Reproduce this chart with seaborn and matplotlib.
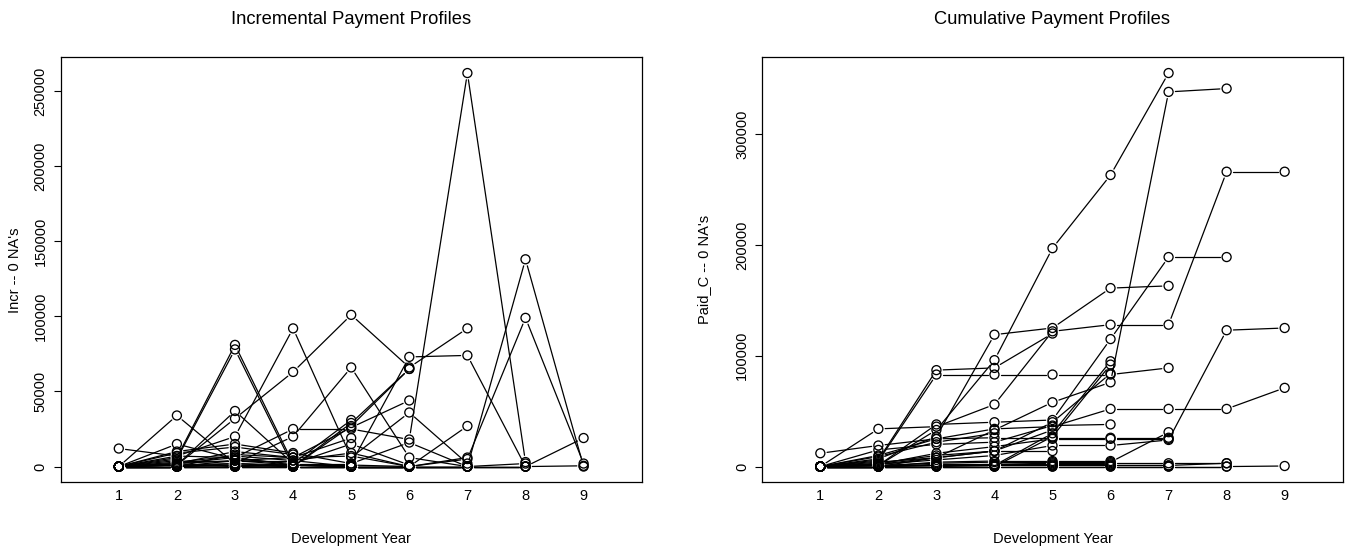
import matplotlib
matplotlib.use("Agg")
import matplotlib.pyplot as plt
import numpy as np
import pandas as pd
import seaborn as sns

# ---------------- data ----------------
dev_years = [1, 2, 3, 4, 5, 6, 7, 8, 9]
x_tick_labels = ["1", "2", "3", "4", "5", "6", "7", "8", "9"]

incr_yticks = [0, 50000, 100000, 150000, 200000, 250000]
cum_yticks = [0, 100000, 200000, 300000]

claim_ids = ["A", "X", "B", "C", "D", "E", "F", "G1", "G2", "H1", "H2", "I", "J",
             "K", "L", "Q", "R", "S", "T1", "T2", "T3", "T4", "T5", "N1", "N2", "N3"]

# cumulative paid per development year (Paid_C)
paid_A = [0, 1000, 33000, 96000, 197000, 263000, 355000]
paid_X = [0, 2000, 8000, 33000, 58000, 76000, 338000, 341000]
paid_B = [0, 34000, 36000, 56000, 122000, 128000, 128000, 266000, 266000]
paid_C = [0, 1000, 38000, 40000, 42000, 115000, 189000, 189000]
paid_D = [0, 7000, 27000, 119000, 125000, 161000, 163000]
paid_E = [0, 2000, 6000, 10000, 19000, 19000, 24000, 123000, 125000]
paid_F = [0, 10000, 25000, 34000, 36000, 52000, 52000, 52000, 71000]
paid_G1 = [0, 6000, 87000, 89000, 120000]
paid_G2 = [0, 5000, 83000, 83000, 83000, 83000, 89000]
paid_H1 = [0, 0, 1000, 1000, 30000, 95000]
paid_H2 = [0, 0, 0, 0, 27000, 92000]
paid_I = [12000, 19000, 25000, 26000, 26000, 26000, 26000]
paid_J = [0, 15000, 20000, 22000, 37000, 38000]
paid_K = [0, 4000, 8000, 14000, 33000]
paid_L = [0, 9000, 22000, 30000]
paid_Q = [0, 1000, 3000, 4000, 4000, 4000, 31000]
paid_R = [0, 2000, 12000, 18000, 25000, 25000, 25000]
paid_S = [0, 0, 8000, 14000, 40000, 84000]
paid_T1 = [0, 0, 4000, 5000, 5000, 5000]
paid_T2 = [0, 1000, 1000, 2000, 3000, 3000, 3000, 3000]
paid_T3 = [0, 0, 0, 1000, 1000, 1000, 1000]
paid_T4 = [0, 0, 2000, 2000, 2000, 2000]
paid_T5 = [0, 3000, 10000, 14000, 14000]
paid_N1 = [0, 0, 0, 0, 0, 0, 0, 0, 500]
paid_N2 = [0, 0, 1000, 1000, 1000, 1000, 1000, 3000]
paid_N3 = [0, 0, 0, 0, 0, 0, 0, 0]

# incremental payment per development year (Incr)
incr_A = [0, 1000, 32000, 63000, 101000, 66000, 92000]
incr_X = [0, 2000, 6000, 25000, 25000, 18000, 262000, 3000]
incr_B = [0, 34000, 2000, 20000, 66000, 6000, 0, 138000, 0]
incr_C = [0, 1000, 37000, 2000, 2000, 73000, 74000, 0]
incr_D = [0, 7000, 20000, 92000, 6000, 36000, 2000]
incr_E = [0, 2000, 4000, 4000, 9000, 0, 5000, 99000, 2000]
incr_F = [0, 10000, 15000, 9000, 2000, 16000, 0, 0, 19000]
incr_G1 = [0, 6000, 81000, 2000, 31000]
incr_G2 = [0, 5000, 78000, 0, 0, 0, 6000]
incr_H1 = [0, 0, 1000, 0, 29000, 65000]
incr_H2 = [0, 0, 0, 0, 27000, 65000]
incr_I = [12000, 7000, 6000, 1000, 0, 0, 0]
incr_J = [0, 15000, 5000, 2000, 15000, 1000]
incr_K = [0, 4000, 4000, 6000, 19000]
incr_L = [0, 9000, 13000, 8000]
incr_Q = [0, 1000, 2000, 1000, 0, 0, 27000]
incr_R = [0, 2000, 10000, 6000, 7000, 0, 0]
incr_S = [0, 0, 8000, 6000, 26000, 44000]
incr_T1 = [0, 0, 4000, 1000, 0, 0]
incr_T2 = [0, 1000, 0, 1000, 1000, 0, 0, 0]
incr_T3 = [0, 0, 0, 1000, 0, 0, 0]
incr_T4 = [0, 0, 2000, 0, 0, 0]
incr_T5 = [0, 3000, 7000, 4000, 0]
incr_N1 = [0, 0, 0, 0, 0, 0, 0, 0, 500]
incr_N2 = [0, 0, 1000, 0, 0, 0, 0, 2000]
incr_N3 = [0, 0, 0, 0, 0, 0, 0, 0]

paid_all = [paid_A, paid_X, paid_B, paid_C, paid_D, paid_E, paid_F, paid_G1, paid_G2,
            paid_H1, paid_H2, paid_I, paid_J, paid_K, paid_L, paid_Q, paid_R, paid_S,
            paid_T1, paid_T2, paid_T3, paid_T4, paid_T5, paid_N1, paid_N2, paid_N3]
incr_all = [incr_A, incr_X, incr_B, incr_C, incr_D, incr_E, incr_F, incr_G1, incr_G2,
            incr_H1, incr_H2, incr_I, incr_J, incr_K, incr_L, incr_Q, incr_R, incr_S,
            incr_T1, incr_T2, incr_T3, incr_T4, incr_T5, incr_N1, incr_N2, incr_N3]

rows = []
for cid, pc, ic in zip(claim_ids, paid_all, incr_all):
    for d, p, i in zip(dev_years, pc, ic):
        rows.append({"claim": cid, "dev": d, "Paid_C": p, "Incr": i})
df = pd.DataFrame(rows)

# ---------------- style ----------------
sns.set_theme(style="white")
plt.rcParams["font.family"] = ["Liberation Sans", "DejaVu Sans"]
FS = 10.5

W, H = 1347, 551
fig = plt.figure(figsize=(W / 100, H / 100), dpi=100)

def frac_axes(left_px, right_px, top_px, bottom_px):
    return [left_px / W, 1 - bottom_px / H, (right_px - left_px) / W, (bottom_px - top_px) / H]

ax1 = fig.add_axes(frac_axes(60.7, 641.7, 57.3, 482.3))
ax2 = fig.add_axes(frac_axes(762.3, 1342.7, 57.3, 482.3))

GAP_PX = 6.8


def panel(ax, col, yticks, title, ylabel, ylab_px, left_px):
    vals = df[col].to_numpy(dtype=float)
    lo, hi = vals.min(), vals.max()
    rng = hi - lo
    ax.set_xlim(0, 10)
    ax.set_ylim(lo - 0.04 * rng, hi + 0.04 * rng)

    # segments between consecutive points, with gaps around points (R type="b")
    trans = ax.transData
    inv = trans.inverted()
    seg_rows = []
    sid = 0
    for cid, g in df.groupby("claim", sort=False):
        pts = trans.transform(np.column_stack([g["dev"].to_numpy(float), g[col].to_numpy(float)]))
        for k in range(len(pts) - 1):
            p0, p1 = pts[k], pts[k + 1]
            v = p1 - p0
            L = np.hypot(*v)
            if L <= 2 * GAP_PX:
                continue
            u = v / L
            a = inv.transform(p0 + u * GAP_PX)
            b = inv.transform(p1 - u * GAP_PX)
            seg_rows.append({"seg": sid, "x": a[0], "y": a[1], "o": 0})
            seg_rows.append({"seg": sid, "x": b[0], "y": b[1], "o": 1})
            sid += 1
    seg = pd.DataFrame(seg_rows)
    sns.lineplot(data=seg, x="x", y="y", units="seg", estimator=None, sort=False,
                 color="black", lw=0.9, ax=ax, legend=False)

    sns.scatterplot(data=df, x="dev", y=col, marker="o", s=42, color="black",
                    linewidth=0.95, ax=ax, legend=False, zorder=4)
    coll = ax.collections[-1]
    coll.set_facecolor("none")
    coll.set_edgecolor("black")
    coll.set_linewidth(0.95)

    ax.set_xlim(0, 10)
    ax.set_ylim(lo - 0.04 * rng, hi + 0.04 * rng)
    ax.set_xticks(dev_years)
    ax.set_xticklabels(x_tick_labels, fontsize=FS)
    ax.set_yticks(yticks)
    ax.set_yticklabels([str(t) for t in yticks], fontsize=FS, rotation=90, va="center")
    ax.tick_params(axis="y", which="both", left=True, length=5.2, width=0.8,
                   pad=4.3, color="black", labelcolor="black")
    ax.tick_params(axis="x", which="both", bottom=False, length=0, pad=4.5,
                   labelcolor="black")
    for sp in ax.spines.values():
        sp.set_visible(True)
        sp.set_color("black")
        sp.set_linewidth(0.9)
    ax.grid(False)

    ax.set_title(title, fontsize=13.2, y=(482.3 - 20) / 425, va="center", pad=0, color="black")
    ax.set_xlabel("Development Year", fontsize=FS, color="black")
    ax.xaxis.set_label_coords(0.5, (482.3 - 539) / 425)
    ax.xaxis.label.set_va("center")
    ax.set_ylabel(ylabel, fontsize=FS, color="black")
    ax.yaxis.set_label_coords((ylab_px - left_px) / (581.0), 0.5)
    ax.yaxis.label.set_va("center")


panel(ax1, "Incr", incr_yticks, "Incremental Payment Profiles", "Incr -- 0 NA's", 15, 60.7)
panel(ax2, "Paid_C", cum_yticks, "Cumulative Payment Profiles", "Paid_C -- 0 NA's", 704, 762.3)

fig.savefig("out.png", dpi=100, facecolor="white")
